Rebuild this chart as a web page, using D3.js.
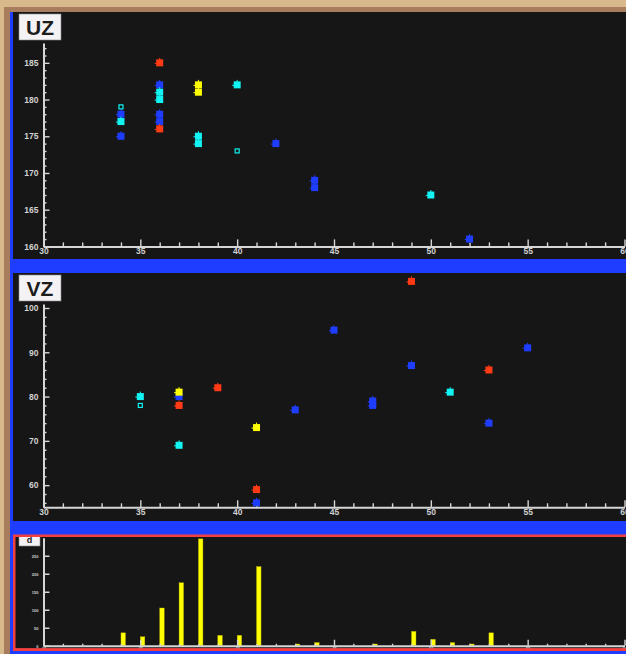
<!DOCTYPE html>
<html>
<head>
<meta charset="utf-8">
<script src="https://cdn.jsdelivr.net/npm/d3@7/dist/d3.min.js"></script>
<style>
  html, body { margin: 0; padding: 0; background: #d8b98c; }
  svg { display: block; }
  .tick text { font-family: "Liberation Sans", Arial, sans-serif; font-weight: bold; fill: #d2d2d2; }
</style>
</head>
<body>
<svg id="chart" width="626" height="654"></svg>
<script>
// ---- UZ panel points ----
const uzBlueX   = [34, 34, 36, 36, 36, 42, 44, 44, 52];
const uzBlueY   = [178, 175, 182, 178, 177, 174, 169, 168, 161];
const uzRedX    = [36, 36];
const uzRedY    = [185, 176];
const uzCyanX   = [34, 36, 36, 38, 38, 40, 50];
const uzCyanY   = [177, 181, 180, 175, 174, 182, 167];
const uzYellowX = [38, 38];
const uzYellowY = [182, 181];
const uzOpenX   = [34, 40];
const uzOpenY   = [179, 173];

// ---- VZ panel points ----
const vzBlueX   = [37, 41, 43, 45, 47, 47, 49, 53, 55];
const vzBlueY   = [80, 56, 77, 95, 79, 78, 87, 74, 91];
const vzCyanX   = [35, 37, 51];
const vzCyanY   = [80, 69, 81];
const vzRedX    = [37, 39, 41, 49, 53];
const vzRedY    = [78, 82, 59, 106, 86];
const vzYellowX = [37, 41];
const vzYellowY = [81, 73];
const vzOpenX   = [35];
const vzOpenY   = [78];

// ---- histogram ----
const barX = [34, 35, 36, 37, 38, 39, 40, 41, 43, 44, 47, 49, 50, 51, 52, 53];
const barY = [36, 25, 105, 175, 297, 29, 29, 220, 5, 9, 5, 40, 18, 9, 5, 36];

// ---- axis ticks ----
const xMajor   = [30, 35, 40, 45, 50, 55, 60];
const uzMajor  = [160, 165, 170, 175, 180, 185];
const vzMajor  = [60, 70, 80, 90, 100];
const histMajor = [0, 50, 100, 150, 200, 250];

const COLORS = { blue: "#1f3dff", red: "#ff3a14", cyan: "#12f4f4", yellow: "#ffff00" };
const AXIS = "#d6d6d6";
const PANEL = "#161616";

const svg = d3.select("#chart");

// frame
svg.append("rect").attr("x", 0).attr("y", 0).attr("width", 626).attr("height", 654).attr("fill", "#d8b98c");
svg.append("rect").attr("x", 4).attr("y", 7).attr("width", 622).attr("height", 647).attr("fill", "#a87d5d");
svg.append("rect").attr("x", 10).attr("y", 12).attr("width", 616).attr("height", 642).attr("fill", "#1f3dff");

const x = d3.scaleLinear().domain([30, 60]).range([43.5, 624.5]);
const xMinor = d3.range(30, 61).filter(v => v % 5 !== 0);

function zip(xs, ys) { return xs.map((v, i) => [v, ys[i]]); }

function titleBox(g, x0, y0, w, h, txt, size) {
  g.append("rect").attr("x", x0).attr("y", y0).attr("width", w).attr("height", h)
    .attr("fill", "#f4f2f4").attr("stroke", "#8a8a8a").attr("stroke-width", 0.6);
  g.append("text").attr("x", x0 + w / 2).attr("y", y0 + h / 2).attr("dy", "0.36em")
    .attr("text-anchor", "middle")
    .attr("font-family", "Liberation Sans, Arial, sans-serif").attr("font-weight", "bold")
    .attr("font-size", size).attr("fill", "#1c1c1c").text(txt);
}

function styleAxis(sel, hideDomain) {
  sel.selectAll("line").attr("stroke", AXIS).attr("stroke-width", 1.4);
  sel.select(".domain").attr("stroke", hideDomain ? "none" : AXIS).attr("stroke-width", 2);
}

function scatterPanel(top, bottom, y, yMajor, yMinor, title, series) {
  const g = svg.append("g");
  const clipId = "clip" + top;
  svg.append("clipPath").attr("id", clipId).append("rect")
    .attr("x", 13).attr("y", top).attr("width", 613).attr("height", bottom - top);
  g.attr("clip-path", `url(#${clipId})`);
  g.append("rect").attr("x", 13).attr("y", top).attr("width", 613).attr("height", bottom - top).attr("fill", PANEL);

  const y0 = y.range()[0];
  // x axis
  const xa = g.append("g").attr("transform", `translate(0,${y0})`)
    .call(d3.axisBottom(x).tickValues(xMajor).tickFormat(d3.format("d")).tickSizeInner(-7).tickSizeOuter(0).tickPadding(2));
  styleAxis(xa, false);
  xa.selectAll("text").attr("font-size", 8.5);
  const xm = g.append("g").attr("transform", `translate(0,${y0})`)
    .call(d3.axisBottom(x).tickValues(xMinor).tickFormat("").tickSizeInner(-4).tickSizeOuter(0));
  styleAxis(xm, true);

  // y axis
  const ya = g.append("g").attr("transform", `translate(${x(30)},0)`)
    .call(d3.axisLeft(y).tickValues(yMajor).tickFormat(d3.format("d")).tickSizeInner(-6).tickSizeOuter(0).tickPadding(5));
  styleAxis(ya, false);
  ya.selectAll("text").attr("font-size", 8.5);
  const ym = g.append("g").attr("transform", `translate(${x(30)},0)`)
    .call(d3.axisLeft(y).tickValues(yMinor).tickFormat("").tickSizeInner(-3).tickSizeOuter(0));
  styleAxis(ym, true);

  // markers: filled square with short stubs on the left and top
  series.forEach(s => {
    const pts = zip(s.xs, s.ys);
    if (s.open) {
      g.selectAll(null).data(pts).enter().append("rect")
        .attr("x", d => x(d[0]) - 2).attr("y", d => y(d[1]) - 2)
        .attr("width", 4).attr("height", 4)
        .attr("fill", PANEL).attr("stroke", s.color).attr("stroke-width", 1.2);
      return;
    }
    const m = g.selectAll(null).data(pts).enter().append("g")
      .attr("transform", d => `translate(${x(d[0])},${y(d[1])})`);
    m.append("path").attr("d", "M-5,0.5H0M0,-5V0").attr("stroke", s.color).attr("stroke-width", 1);
    m.append("rect").attr("x", -3.5).attr("y", -3.5).attr("width", 7).attr("height", 7).attr("fill", s.color);
  });

  titleBox(g, 19, top + 2, 42, 26, title, 21);
}

// UZ panel
const yUZ = d3.scaleLinear().domain([160, 187.7]).range([246.4, 43]);
scatterPanel(12, 259, yUZ, uzMajor, d3.range(161, 188).filter(v => v % 5 !== 0), "UZ", [
  { xs: uzBlueX, ys: uzBlueY, color: COLORS.blue },
  { xs: uzRedX, ys: uzRedY, color: COLORS.red },
  { xs: uzCyanX, ys: uzCyanY, color: COLORS.cyan },
  { xs: uzYellowX, ys: uzYellowY, color: COLORS.yellow },
  { xs: uzOpenX, ys: uzOpenY, color: COLORS.cyan, open: true }
]);

// VZ panel
const yVZ = d3.scaleLinear().domain([55, 100.9]).range([507.3, 304]);
scatterPanel(273, 521, yVZ, vzMajor, d3.range(56, 101, 2).filter(v => v % 10 !== 0), "VZ", [
  { xs: vzBlueX, ys: vzBlueY, color: COLORS.blue },
  { xs: vzCyanX, ys: vzCyanY, color: COLORS.cyan },
  { xs: vzRedX, ys: vzRedY, color: COLORS.red },
  { xs: vzYellowX, ys: vzYellowY, color: COLORS.yellow },
  { xs: vzOpenX, ys: vzOpenY, color: COLORS.cyan, open: true }
]);

// histogram panel with red frame
svg.append("rect").attr("x", 13).attr("y", 534.5).attr("width", 620).attr("height", 116.5).attr("fill", "#f24040");
svg.append("clipPath").attr("id", "clipHist").append("rect")
  .attr("x", 15.3).attr("y", 537).attr("width", 620).attr("height", 111.3);
const h = svg.append("g").attr("clip-path", "url(#clipHist)");
h.append("rect").attr("x", 15.3).attr("y", 537).attr("width", 620).attr("height", 111.3).attr("fill", PANEL);

const yH = d3.scaleLinear().domain([0, 300]).range([645.8, 537.8]);

h.selectAll(null).data(zip(barX, barY)).enter().append("rect")
  .attr("x", d => x(d[0])).attr("y", d => yH(d[1]))
  .attr("width", 4.5).attr("height", d => yH(0) - yH(d[1]))
  .attr("fill", "#ffff00").attr("stroke", "#b8b000").attr("stroke-width", 0.4);

const hx = h.append("g").attr("transform", `translate(0,${yH(0)})`)
  .call(d3.axisBottom(x).tickValues(xMajor).tickFormat(d3.format("d")).tickSizeInner(-6).tickSizeOuter(0).tickPadding(1));
styleAxis(hx, false);
hx.selectAll("text").attr("font-size", 4);
const hxm = h.append("g").attr("transform", `translate(0,${yH(0)})`)
  .call(d3.axisBottom(x).tickValues(xMinor).tickFormat("").tickSizeInner(-2).tickSizeOuter(0));
styleAxis(hxm, true);

const hy = h.append("g").attr("transform", `translate(${x(30)},0)`)
  .call(d3.axisLeft(yH).tickValues(histMajor).tickFormat(d3.format("d")).tickSizeInner(-6).tickSizeOuter(0).tickPadding(5));
styleAxis(hy, false);
hy.selectAll("text").attr("font-size", 4);

titleBox(h, 19, 534, 21, 12, "d", 9);
</script>
</body>
</html>
